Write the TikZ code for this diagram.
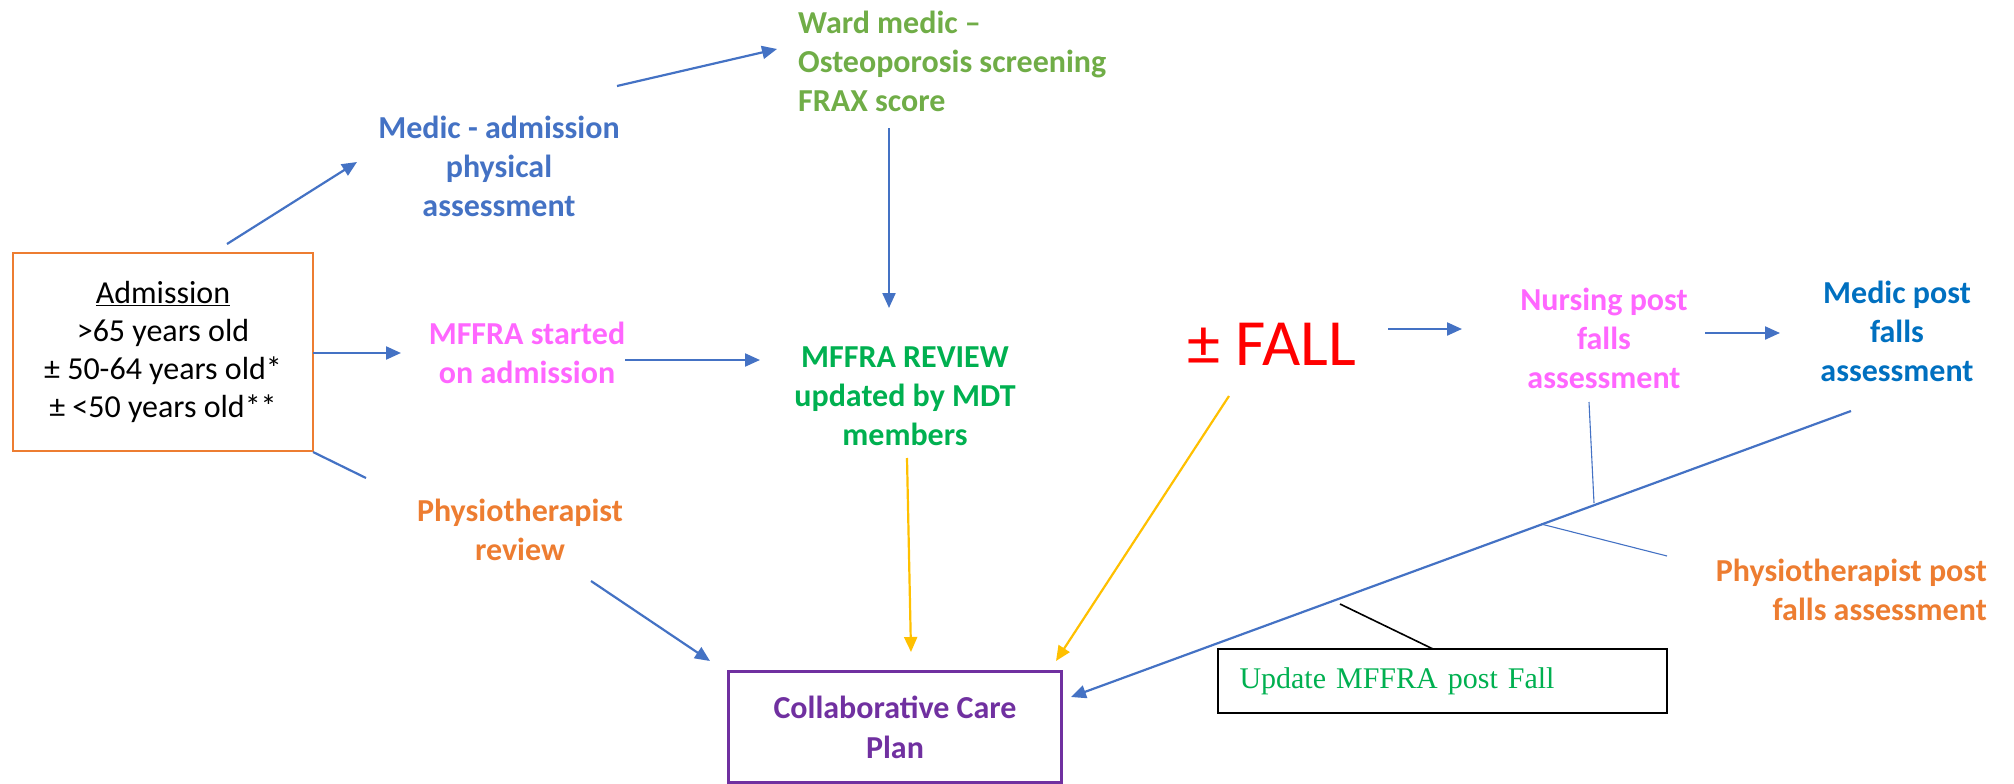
\documentclass[tikz,border=0pt]{standalone}
\usepackage{fontspec}
\setmainfont{Carlito}
\newfontfamily\garfont{Liberation Serif}
\usetikzlibrary{arrows.meta}
\definecolor{cblue}{HTML}{4472C4}
\definecolor{mblue}{HTML}{0070C0}
\definecolor{lgreen}{HTML}{70AD47}
\definecolor{dgreen}{HTML}{00B050}
\definecolor{cmag}{HTML}{FF66FF}
\definecolor{corange}{HTML}{ED7D31}
\definecolor{cpurple}{HTML}{7030A0}
\definecolor{cyellow}{HTML}{FFC000}
\begin{document}
\begin{tikzpicture}[x=1pt,y=-1pt,
  lbl/.style={inner sep=0pt, align=center, font=\bfseries\fontsize{32}{39}\selectfont},
  arr/.style={cblue, line width=2.2pt, -{Triangle[length=15pt,width=13pt]}},
  yarr/.style={cyellow, line width=2.2pt, -{Triangle[length=15pt,width=13pt]}},
  plain/.style={cblue, line width=2.2pt},
  thin/.style={cblue, line width=1.1pt},
  boxed/.style={draw, inner sep=0pt, align=center}]
\useasboundingbox (0,0) rectangle (2014,784);

% nodes
\node[boxed, draw=corange, line width=2pt, minimum width=300pt, minimum height=198pt,
      font=\fontsize{32}{38}\selectfont] (adm) at (163,352)
  {\underline{Admission}\\>65 years old\\± 50-64 years old*\\± <50 years old**};
\node[lbl, text=cblue] (medic) at (499,166) {Medic - admission\\physical\\assessment};
\node[lbl, text=lgreen, align=left, anchor=west] (ward) at (798,61) {Ward medic –\\Osteoporosis screening\\FRAX score};
\node[lbl, text=cmag] (mstart) at (527,353) {MFFRA started\\on admission};
\node[lbl, text=dgreen] (review) at (905,396) {MFFRA REVIEW\\updated by MDT\\members};
\node[inner sep=0pt, text=red, font=\fontsize{66}{70}\selectfont] (fall) at (1272,344) {± FALL};
\node[lbl, text=cmag] (nurse) at (1604,338) {Nursing post\\falls\\assessment};
\node[lbl, text=mblue] (mpost) at (1897,331) {Medic post\\falls\\assessment};
\node[lbl, text=corange] (physio) at (520,530) {Physiotherapist\\review};
\node[lbl, text=corange, align=right, anchor=east] (ppost) at (1987,590) {Physiotherapist post\\falls assessment};
\node[boxed, draw=cpurple, line width=2.5pt, minimum width=333pt, minimum height=111pt,
      text=cpurple, font=\bfseries\fontsize{32}{40}\selectfont] (care) at (895,727)
  {Collaborative Care\\Plan};
\node[boxed, draw=black, line width=2pt, minimum width=449pt, minimum height=64pt,
      inner xsep=22pt, text width=405pt, align=left, text=dgreen,
      font=\garfont\fontsize{30}{34}\selectfont] (upd) at (1442,681) {Update MFFRA post Fall};

% connector end points
\coordinate (adm-n) at (227,244);
\coordinate (medic-in) at (357,162);
\coordinate (medic-out) at (617,86);
\coordinate (ward-in) at (777,49);
\coordinate (ward-out) at (889,128);
\coordinate (review-in) at (889,308);
\coordinate (adm-e) at (313,353);
\coordinate (mstart-in) at (401,353);
\coordinate (mstart-out) at (625,360);
\coordinate (review-w) at (760,360);
\coordinate (adm-se) at (313,452);
\coordinate (physio-tail) at (366,478);
\coordinate (physio-out) at (591,581);
\coordinate (care-nw) at (710,661);
\coordinate (review-out) at (907,458);
\coordinate (care-n) at (911,652);
\coordinate (fall-out) at (1229,396);
\coordinate (care-ne) at (1056,661);
\coordinate (fall-e) at (1388,329);
\coordinate (nurse-in) at (1462,329);
\coordinate (nurse-out) at (1705,333);
\coordinate (mpost-in) at (1780,333);
\coordinate (mpost-out) at (1851,411);
\coordinate (care-e) at (1071,697);
\coordinate (nurse-stem) at (1589,402);
\coordinate (j1) at (1594,503);
\coordinate (j2) at (1541,524);
\coordinate (ppost-stem) at (1667,556);
\coordinate (j3) at (1340,604);
\coordinate (upd-n) at (1433,649);

% connectors
\draw[arr] (adm-n) -- (medic-in);
\draw[arr] (medic-out) -- (ward-in);
\draw[arr] (ward-out) -- (review-in);
\draw[arr] (adm-e) -- (mstart-in);
\draw[arr] (mstart-out) -- (review-w);
\draw[plain] (adm-se) -- (physio-tail);
\draw[arr] (physio-out) -- (care-nw);
\draw[yarr] (review-out) -- (care-n);
\draw[yarr] (fall-out) -- (care-ne);
\draw[arr] (fall-e) -- (nurse-in);
\draw[arr] (nurse-out) -- (mpost-in);
\draw[arr] (mpost-out) -- (care-e);
\draw[thin] (nurse-stem) -- (j1);
\draw[thin] (j2) -- (ppost-stem);
\draw[black, line width=1.6pt] (j3) -- (upd-n);
\end{tikzpicture}
\end{document}
